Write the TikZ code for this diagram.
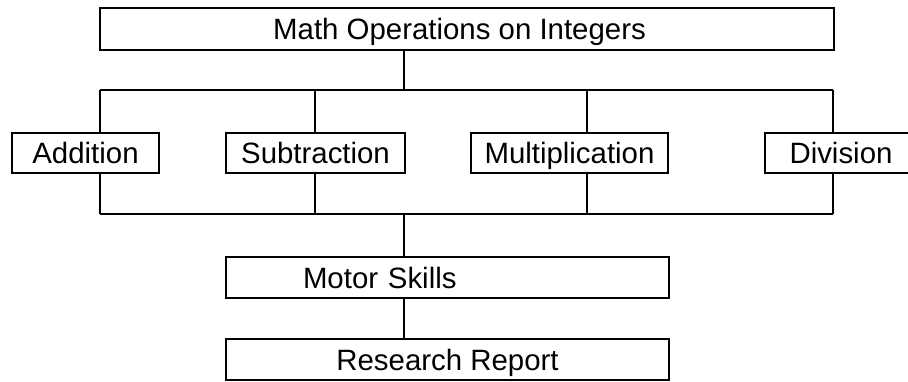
\documentclass[tikz,border=0pt]{standalone}
\usepackage{fontspec}
\setmainfont{Liberation Sans}
\begin{document}
\begin{tikzpicture}[x=1pt,y=-1pt,
  line width=2.2pt,
  box/.style={draw=black, rectangle, inner sep=0pt, text height=21pt, text depth=-3pt,
    font=\fontsize{29.4}{35}\selectfont},
  opbox/.style={box, minimum height=40pt},
  link/.style={draw=black, line width=2.2pt}]
\useasboundingbox (0,0) rectangle (908,381);

% title (text sits a little left of the box centre)
\node[box, minimum width=734pt, minimum height=42pt] (top) at (467,29) {Math Operations on Integers\kern15pt};

% the four operations
\node[opbox, minimum width=147pt] (add) at (85.5,153) {Addition};
\node[opbox, minimum width=179pt] (sub) at (315.5,153) {Subtraction};
\node[opbox, minimum width=197pt] (mul) at (569.5,153) {Multiplication};
\node[opbox, minimum width=152pt] (div) at (841,153) {Division};

% lower chain
\node[box, minimum width=443pt, minimum height=41pt, inner xsep=77pt, text width=289pt, align=left] (motor) at (447.5,277.5) {Motor Skills};
\node[box, minimum width=443pt, minimum height=41pt] (report) at (447.5,359.5) {Research Report};

% bus junctions
\coordinate (tt) at (404,90);
\coordinate (ua) at (100,90);
\coordinate (us) at (315,90);
\coordinate (um) at (587,90);
\coordinate (ud) at (833,90);
\coordinate (bt) at (404,214);
\coordinate (la) at (100,214);
\coordinate (ls) at (315,214);
\coordinate (lm) at (587,214);
\coordinate (ld) at (833,214);

% upper fan-out
\draw[link] (tt |- top.south) -- (tt);
\draw[link] (ua) -- (ud);
\draw[link] (ua) -- (ua |- add.north);
\draw[link] (us) -- (us |- sub.north);
\draw[link] (um) -- (um |- mul.north);
\draw[link] (ud) -- (ud |- div.north);

% lower fan-in
\draw[link] (la |- add.south) -- (la);
\draw[link] (ls |- sub.south) -- (ls);
\draw[link] (lm |- mul.south) -- (lm);
\draw[link] (ld |- div.south) -- (ld);
\draw[link] (la) -- (ld);
\draw[link] (bt) -- (bt |- motor.north);
\draw[link] (bt |- motor.south) -- (bt |- report.north);
\end{tikzpicture}
\end{document}
